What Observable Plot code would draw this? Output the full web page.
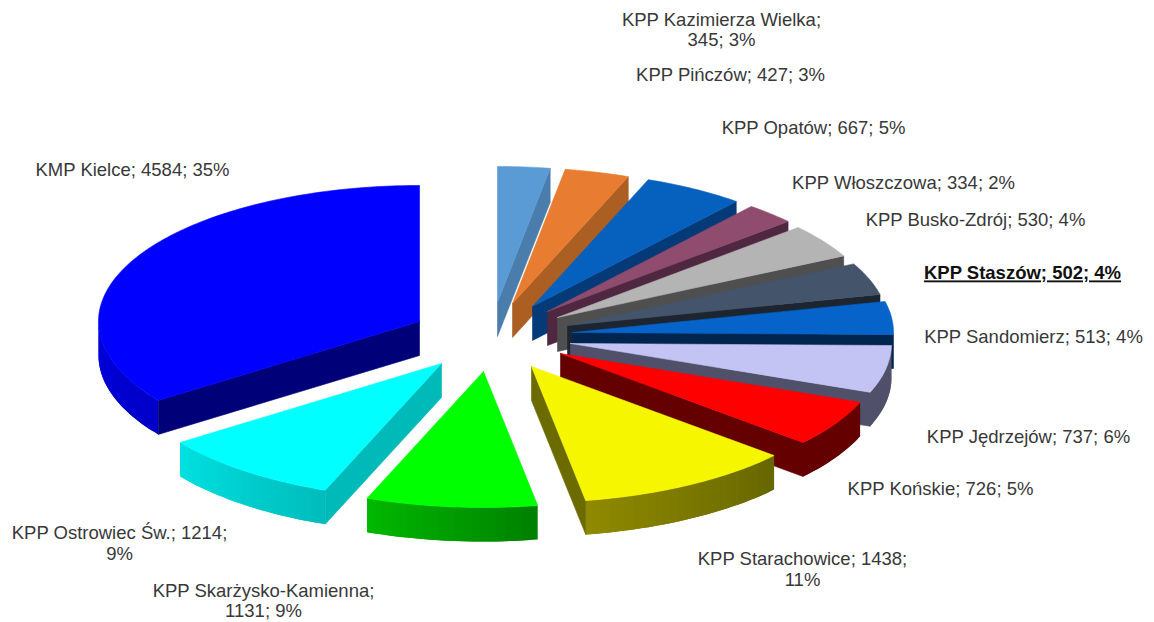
<!DOCTYPE html>
<html>
<head>
<meta charset="utf-8">
<script src="https://cdn.jsdelivr.net/npm/d3@7"></script>
<script src="https://cdn.jsdelivr.net/npm/@observablehq/plot@0.6"></script>
<style>
html,body{margin:0;padding:0;background:#fff}
svg{display:block}
</style>
</head>
<body>
<div id="chart"></div>
<script>
// Data (clockwise from 12 o'clock)
const names = ["KPP Kazimierza Wielka","KPP Pińczów","KPP Opatów","KPP Włoszczowa","KPP Busko-Zdrój","KPP Staszów","KPP Sandomierz","KPP Jędrzejów","KPP Końskie","KPP Starachowice","KPP Skarżysko-Kamienna","KPP Ostrowiec Św.","KMP Kielce"];
const values = [345,427,667,334,530,502,513,737,726,1438,1131,1214,4584];
const percents = [3,3,5,2,4,4,4,6,5,11,9,9,35];

// Layout: where each exploded wedge's tip sits, and pie shape
const tipX = [497,512,532,547,557,567,572,570,560,531,483,441,419];
const tipY = [302,303,306,311,317,325,332,343,353,366,371,363,321];
const radiusX = 321, radiusY = 136, depth = 34;

// Styles
const topColors = ["#5b9bd5","#e87c30","#0660bd","#8f4c6e","#b4b4b4","#44546a","#0563c9","#c4c4f4","#ff0000","#f6f600","#00ff00","#00ffff","#0000ff"];
const cutColors = ["#4a7dab","#ac5f22","#043a78","#4f2740","#4f4f4f","#1c2530","#00264f","#50506a","#640000","#6b6b00","#008000","#00b9b9","#000078"];
const rimStart = ["#4a7dab","#ac5f22","#043a78","#4f2740","#4f4f4f","#1c2530","#00264f","#50506a","#640000","#666600","#008000","#00bcbc","#0000c8"];
const rimEnd   = ["#4a7dab","#ac5f22","#043a78","#4f2740","#4f4f4f","#1c2530","#00264f","#50506a","#640000","#8f8a00","#00b800","#00e0e0","#0000dc"];

// Labels: breakAfter says where the second line starts
const labelX = [721,730,813,903,975,1022,1033,1028,940,802,263,119,132];
const labelY = [29,74,127,182,219,273,336,436,488,568.5,600,542.5,169];
const breakAfter = ["name","","","","","","","","","value","name","value",""];
const emphasised = "KPP Staszów";

const arcs = d3.pie().sort(null).startAngle(0).endAngle(2 * Math.PI)(values);
const rows = [];
let id = 0;
const addPoly = (pts, color, edge) => {
  id++;
  for (const [x, y] of [...pts, pts[0]]) rows.push({id, x, y, color, edge});
};
arcs.forEach((a, i) => {
  const at = (t, dy = 0) => [tipX[i] + Math.sin(t) * radiusX, tipY[i] - Math.cos(t) * radiusY + dy];
  const tip = [tipX[i], tipY[i]], tipLow = [tipX[i], tipY[i] + depth];
  const s = a.startAngle, e = a.endAngle;
  // rim: only the front half of the ellipse faces the viewer
  const r0 = Math.max(s, Math.PI / 2), r1 = Math.min(e, 3 * Math.PI / 2);
  if (r1 > r0) {
    const n = Math.ceil((r1 - r0) / (Math.PI / 120));
    const mix = d3.interpolateRgb(rimStart[i], rimEnd[i]);
    for (let k = 0; k < n; k++) {
      const t0 = r0 + (r1 - r0) * k / n, t1 = r0 + (r1 - r0) * (k + 1) / n;
      // each band runs on past its end so that the next one paints over the seam
      const band = [];
      const stop = Math.min(r1, t1 + (r1 - r0) / n);
      for (const t of [t0, t1, stop]) band.push(at(t));
      for (const t of [stop, t1, t0]) band.push(at(t, depth));
      addPoly(band, mix((k + .5) / n), "none");
    }
  }
  // cut faces
  if (e < Math.PI) addPoly([tip, at(e), at(e, depth), tipLow], cutColors[i], cutColors[i]);
  if (s > Math.PI) addPoly([tip, at(s), at(s, depth), tipLow], cutColors[i], cutColors[i]);
  // top face
  const n = Math.ceil((e - s) / (Math.PI / 180));
  const top = [tip];
  for (let k = 0; k <= n; k++) top.push(at(s + (e - s) * k / n));
  addPoly(top, topColors[i], topColors[i]);
});

const labels = names.map((name, i) => ({
  name,
  x: labelX[i],
  y: labelY[i],
  text: `${name};${breakAfter[i] === "name" ? "\n" : " "}${values[i]};${breakAfter[i] === "value" ? "\n" : " "}${percents[i]}%`
}));
const plain = labels.filter(d => d.name !== emphasised);
const bold = labels.filter(d => d.name === emphasised);

const chart = Plot.plot({
  width: 1154,
  height: 622,
  margin: 0,
  x: {domain: [0, 1154], axis: null},
  y: {domain: [622, 0], axis: null},
  color: {type: "identity"},
  style: {background: "#fff", fontFamily: "'Liberation Sans', Arial, sans-serif"},
  marks: [
    Plot.line(rows, {x: "x", y: "y", z: "id", fill: "color", stroke: "edge", strokeWidth: 0.6, curve: "linear"}),
    Plot.text(plain, {x: "x", y: "y", text: "text", fontSize: 18.5, lineHeight: 1.1, fill: "#383838", textAnchor: "middle"}),
    Plot.text(bold, {
      x: "x", y: "y", text: "text", fontSize: 18.5, fontWeight: "bold", fill: "#111", textAnchor: "middle",
      render(index, scales, values, dimensions, context, next) {
        const g = next(index, scales, values, dimensions, context);
        d3.select(g).selectAll("text").style("text-decoration", "underline");
        return g;
      }
    })
  ]
});
document.getElementById("chart").append(chart);
</script>
</body>
</html>
